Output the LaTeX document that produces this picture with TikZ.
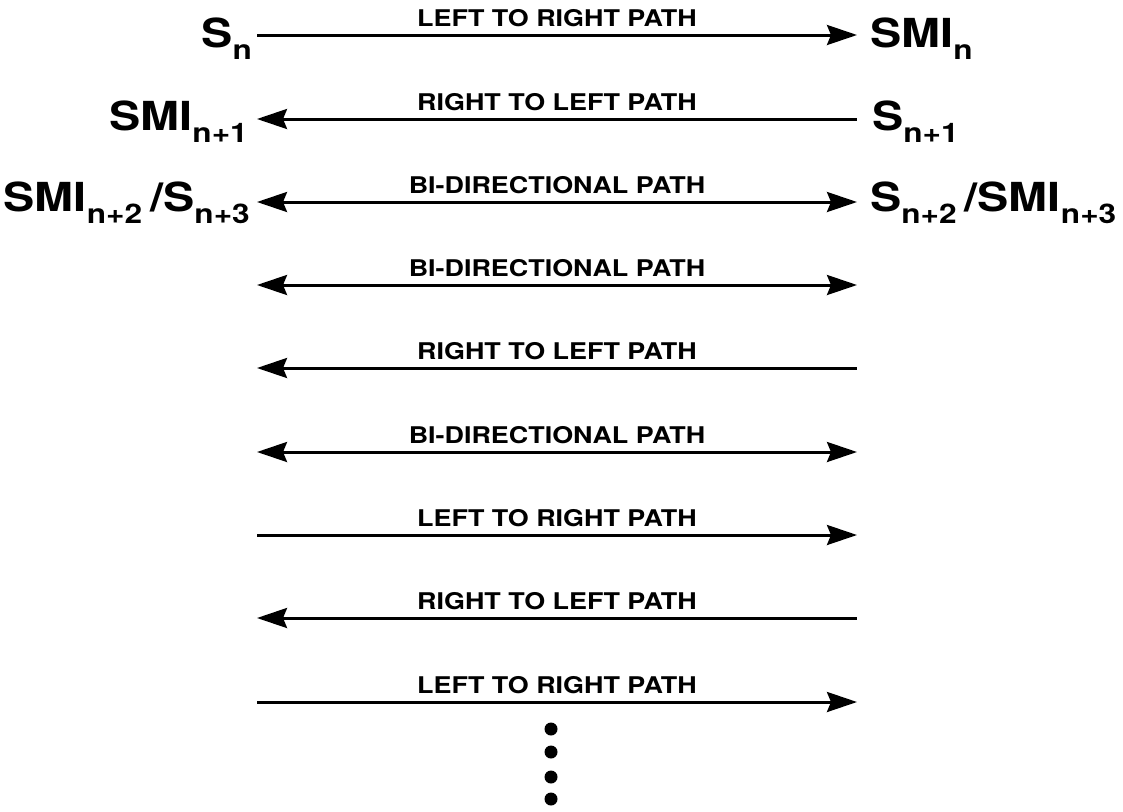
\documentclass[tikz,border=0pt]{standalone}
\usepackage{fontspec}
\setmainfont[FakeStretch=1.17]{TeX Gyre Heros}
\usetikzlibrary{arrows.meta,positioning}

\newcommand{\lowidx}[1]{\raisebox{-12pt}{\fontsize{27}{27}\selectfont #1}}

\tikzset{
  route/.style={line width=3pt},
  pathlabel/.style={font=\bfseries\fontsize{23}{23}\selectfont, inner sep=0pt, midway, above=7pt},
  endlabel/.style={font=\bfseries\fontsize{40}{40}\selectfont, inner sep=0pt},
  dot/.style={circle, fill, inner sep=0pt, minimum size=13pt}
}

\begin{document}
\begin{tikzpicture}[x=1pt,y=-1pt,>={Stealth[length=30pt,width=20pt,inset=4pt]}]
  \useasboundingbox (0,0) rectangle (1123,811);

  % end points of the paths
  \coordinate (l1) at (257,35);  \coordinate (r1) at (857,35);
  \coordinate (l2) at (257,119); \coordinate (r2) at (857,119);
  \coordinate (l3) at (257,202); \coordinate (r3) at (857,202);
  \coordinate (l4) at (257,285); \coordinate (r4) at (857,285);
  \coordinate (l5) at (257,368); \coordinate (r5) at (857,368);
  \coordinate (l6) at (257,452); \coordinate (r6) at (857,452);
  \coordinate (l7) at (257,535); \coordinate (r7) at (857,535);
  \coordinate (l8) at (257,618); \coordinate (r8) at (857,618);
  \coordinate (l9) at (257,702); \coordinate (r9) at (857,702);

  % stations
  \node[endlabel, anchor=base east, xshift=-5pt, yshift=-12pt] (sn) at (l1) {S\lowidx{n}};
  \node[endlabel, anchor=base west, xshift=13pt, yshift=-12pt] (smin) at (r1) {SMI\lowidx{n}};
  \node[endlabel, anchor=base east, xshift=-9pt, yshift=-11pt] (smin1) at (l2) {SMI\lowidx{n+1}};
  \node[endlabel, anchor=base west, xshift=15pt, yshift=-11pt] (sn1) at (r2) {S\lowidx{n+1}};
  \node[endlabel, anchor=base east, xshift=-7pt, yshift=-9pt] (smin2) at (l3) {SMI\lowidx{n+2}\kern8pt/S\lowidx{n+3}};
  \node[endlabel, anchor=base west, xshift=13pt, yshift=-9pt] (sn2) at (r3) {S\lowidx{n+2}\kern8pt/SMI\lowidx{n+3}};

  \draw[route,->]  (l1) -- node[pathlabel] {LEFT TO RIGHT PATH} (r1);
  \draw[route,<-]  (l2) -- node[pathlabel] {RIGHT TO LEFT PATH} (r2);
  \draw[route,<->] (l3) -- node[pathlabel] {BI-DIRECTIONAL PATH} (r3);
  \draw[route,<->] (l4) -- node[pathlabel] {BI-DIRECTIONAL PATH} (r4);
  \draw[route,<-]  (l5) -- node[pathlabel] {RIGHT TO LEFT PATH} (r5);
  \draw[route,<->] (l6) -- node[pathlabel] {BI-DIRECTIONAL PATH} (r6);
  \draw[route,->]  (l7) -- node[pathlabel] {LEFT TO RIGHT PATH} (r7);
  \draw[route,<-]  (l8) -- node[pathlabel] {RIGHT TO LEFT PATH} (r8);
  \draw[route,->]  (l9) -- node[pathlabel] {LEFT TO RIGHT PATH} (r9);

  % more paths follow
  \node[dot] (d1) at (551,729) {};
  \node[dot] (d2) at (551,752) {};
  \node[dot] (d3) at (551,777) {};
  \node[dot] (d4) at (551,799) {};
\end{tikzpicture}
\end{document}
